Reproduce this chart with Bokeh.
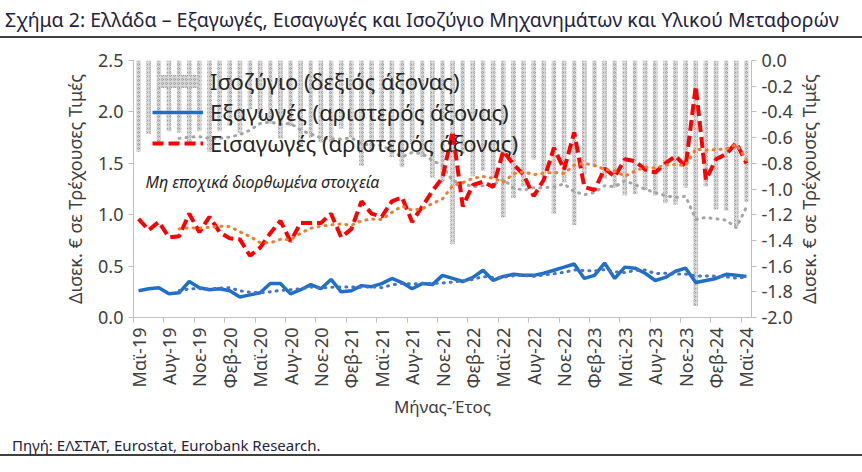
import math
import pandas as pd
from bokeh.plotting import figure
from bokeh.models import (Range1d, LinearAxis, FixedTicker, NumeralTickFormatter,
                          Legend, LegendItem, Label, Div)
from bokeh.layouts import column, row
from bokeh.embed import file_html
from bokeh.resources import INLINE

FONT = "Noto Sans"

# ---------------- data (monthly, May-2019 .. May-2024) ----------------
tick_labels = ["Μαϊ-19", "Αυγ-19", "Νοε-19", "Φεβ-20", "Μαϊ-20", "Αυγ-20", "Νοε-20",
               "Φεβ-21", "Μαϊ-21", "Αυγ-21", "Νοε-21", "Φεβ-22", "Μαϊ-22", "Αυγ-22",
               "Νοε-22", "Φεβ-23", "Μαϊ-23", "Αυγ-23", "Νοε-23", "Φεβ-24", "Μαϊ-24"]

# exports, left axis (bn EUR)
exports = [0.26, 0.28, 0.29, 0.23, 0.24, 0.35, 0.29, 0.27, 0.28, 0.26, 0.20, 0.22,
           0.24, 0.33, 0.33, 0.23, 0.27, 0.32, 0.28, 0.37, 0.25, 0.26, 0.31, 0.30,
           0.33, 0.38, 0.34, 0.28, 0.33, 0.32, 0.41, 0.38, 0.35, 0.39, 0.46, 0.36,
           0.40, 0.42, 0.41, 0.41, 0.43, 0.46, 0.49, 0.52, 0.38, 0.41, 0.53, 0.38,
           0.49, 0.48, 0.43, 0.36, 0.39, 0.45, 0.48, 0.34, 0.36, 0.38, 0.42, 0.41, 0.40]

# imports, left axis (bn EUR)
imports = [0.96, 0.85, 0.93, 0.78, 0.79, 1.01, 0.83, 0.98, 0.83, 0.77, 0.76, 0.60,
           0.68, 0.82, 0.94, 0.74, 0.92, 0.92, 0.92, 1.01, 0.78, 0.86, 1.13, 1.01,
           0.98, 1.13, 1.17, 0.93, 1.08, 1.23, 1.36, 1.81, 1.08, 1.29, 1.32, 1.27,
           1.62, 1.49, 1.39, 1.18, 1.34, 1.65, 1.44, 1.80, 1.27, 1.24, 1.45, 1.37,
           1.54, 1.52, 1.44, 1.41, 1.50, 1.57, 1.47, 2.25, 1.34, 1.54, 1.59, 1.70, 1.50]

# balance, right axis (bn EUR)
balance = [-0.71, -0.57, -0.64, -0.55, -0.56, -0.66, -0.55, -0.71, -0.55, -0.51, -0.56, -0.38,
           -0.45, -0.49, -0.61, -0.51, -0.65, -0.60, -0.64, -0.64, -0.53, -0.60, -0.82, -0.71,
           -0.64, -0.75, -0.83, -0.65, -0.75, -0.91, -0.95, -1.43, -0.73, -0.90, -0.86, -0.91,
           -1.22, -1.07, -0.98, -0.77, -0.91, -1.19, -0.95, -1.28, -0.89, -0.83, -0.92, -0.99,
           -1.05, -1.04, -1.01, -1.05, -1.11, -1.12, -0.99, -1.91, -0.98, -1.16, -1.17, -1.29, -1.10]

left_ticks = [0.0, 0.5, 1.0, 1.5, 2.0, 2.5]
right_ticks = [0.0, -0.2, -0.4, -0.6, -0.8, -1.0, -1.2, -1.4, -1.6, -1.8, -2.0]

month = list(range(len(exports)))
# Excel-style moving-average trendlines (period 5) of the series above
MA = 5
exports_ma = pd.Series(exports).rolling(MA).mean().tolist()
imports_ma = pd.Series(imports).rolling(MA).mean().tolist()
balance_ma = pd.Series(balance).rolling(MA).mean().tolist()

label_pos = [3 * k for k in range(len(tick_labels))]
boundary_pos = [v - 0.5 for v in label_pos]

TXT = "#404040"
AX = "#bfbfbf"
YLABEL = "Δισεκ. € σε Τρέχουσες Τιμές"

p = figure(width=795, height=400, output_backend="svg", toolbar_location=None,
           x_range=Range1d(-0.5, len(month) - 0.5), y_range=Range1d(0, 2.5),
           x_axis_location=None,
           min_border_left=133, min_border_right=43, min_border_top=22,
           min_border_bottom=121, background_fill_color="white",
           border_fill_color="white")
p.outline_line_color = None
p.grid.visible = False
p.extra_y_ranges = {"bal": Range1d(-2.0, 0.0)}

def style_axis(ax):
    ax.axis_line_color = AX
    ax.major_tick_line_color = AX
    ax.minor_tick_line_color = None
    ax.major_tick_out = 5
    ax.major_tick_in = 0
    ax.major_label_text_font = FONT
    ax.major_label_text_font_size = "18px"
    ax.major_label_text_color = TXT
    ax.axis_label_text_font = FONT
    ax.axis_label_text_font_size = "18px"
    ax.axis_label_text_font_style = "normal"
    ax.axis_label_text_color = TXT

# left axis
yl = p.yaxis[0]
style_axis(yl)
yl.ticker = FixedTicker(ticks=left_ticks)
yl.formatter = NumeralTickFormatter(format="0.0")
yl.axis_label = YLABEL
yl.major_label_standoff = 5
yl.axis_label_standoff = 8

# right axis (its title is placed beside the figure, reading bottom-to-top)
yr = LinearAxis(y_range_name="bal", ticker=FixedTicker(ticks=right_ticks),
                formatter=NumeralTickFormatter(format="0.0"))
style_axis(yr)
yr.major_label_standoff = 5
p.add_layout(yr, "right")

# x axis: labels at category centres, tick marks at category boundaries
xl = LinearAxis(ticker=FixedTicker(ticks=label_pos, minor_ticks=boundary_pos),
                major_label_overrides={pos: lab for pos, lab in zip(label_pos, tick_labels)},
                axis_label="Μήνας-Έτος")
style_axis(xl)
xl.major_tick_line_color = None
xl.major_tick_out = 0
xl.minor_tick_line_color = AX
xl.minor_tick_out = 5
xl.minor_tick_in = 0
xl.major_label_orientation = math.pi / 2
xl.major_label_standoff = 5
xl.axis_label_standoff = 3
xl.axis_label_text_font_size = "17px"
p.add_layout(xl, "below")

# glyphs
bars = p.vbar(x=month, top=0, bottom=balance, width=0.45, y_range_name="bal",
              fill_color="#d9d9d9", line_color=None,
              hatch_pattern="ring", hatch_color="#979797", hatch_scale=4,
              hatch_weight=0.8)
p.line(month, balance_ma, y_range_name="bal", line_color="#A5A5A5", line_width=3,
       line_dash="1 6", line_cap="round")
l_exp = p.line(month, exports, line_color="#1F6FC5", line_width=3.5)
l_imp = p.line(month, imports, line_color="#FF0000", line_width=4, line_dash="11 5")
p.line(month, imports_ma, line_color="#ED7D31", line_width=3, line_dash="1 6",
       line_cap="round")
p.line(month, exports_ma, line_color="#4472C4", line_width=3, line_dash="1 6",
       line_cap="round")

legend = Legend(items=[
    LegendItem(label="Ισοζύγιο (δεξιός άξονας)", renderers=[bars]),
    LegendItem(label="Εξαγωγές (αριστερός άξονας)", renderers=[l_exp]),
    LegendItem(label="Εισαγωγές (αριστερός άξονας)", renderers=[l_imp]),
], location=(19, 159), label_text_font=FONT, label_text_font_size="22px",
   label_text_color="#262626", glyph_width=51, glyph_height=16, label_height=20,
   label_standoff=7, spacing=1, padding=0, margin=0,
   background_fill_alpha=0, border_line_color=None)
p.add_layout(legend)

p.add_layout(Label(x=0.68, y=1.32, text="Μη εποχικά διορθωμένα στοιχεία",
                   text_font=FONT, text_font_style="italic", text_font_size="16px",
                   text_color="#262626", text_baseline="middle"))

# right-hand axis title, reading bottom-to-top
right_title = Div(text=('<div style="width:67px;height:400px;position:relative;">'
                        '<div style="position:absolute;left:2px;top:30px;height:242px;'
                        'writing-mode:vertical-rl;transform:rotate(180deg);'
                        'font-family:\'Noto Sans\';font-size:18px;color:#404040;'
                        'white-space:nowrap;text-align:center;">' + YLABEL + '</div></div>'),
                  width=67, height=400, margin=0)

title = Div(text=('<div style="width:862px;height:36px;border-bottom:2px solid #404040;'
                  'font-family:\'Noto Sans\';font-size:19.5px;color:#1f2440;line-height:40px;'
                  'white-space:nowrap;padding-left:5px;box-sizing:content-box;">'
                  'Σχήμα 2: Ελλάδα – Εξαγωγές, Εισαγωγές και Ισοζύγιο '
                  'Μηχανημάτων και Υλικού Μεταφορών</div>'),
            width=862, height=38, margin=0)
source = Div(text=('<div style="width:862px;height:18px;border-bottom:2px solid #404040;'
                   'font-family:\'Noto Sans\';font-size:15px;color:#1f2440;line-height:14px;'
                   'white-space:nowrap;padding-left:12px;">'
                   'Πηγή: ΕΛΣΤΑΤ, Eurostat, Eurobank Research.</div>'),
             width=862, height=20, margin=0)

layout = column(title, row(p, right_title, spacing=0), source, spacing=0)
open("out.html", "w").write(file_html(layout, INLINE))
